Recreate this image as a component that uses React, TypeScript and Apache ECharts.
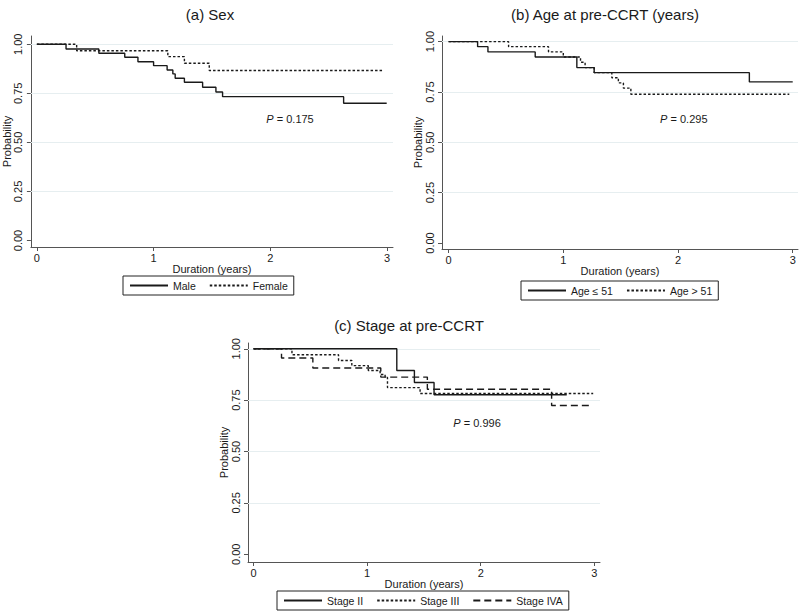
import React, { useEffect, useRef } from "react";
import * as echarts from "echarts";

const xTicks = [0, 1, 2, 3];
const yTicks = [0, 0.25, 0.5, 0.75, 1];
const gridValues = [0.25, 0.5, 0.75, 1];

const titles = ["(a) Sex", "(b) Age at pre-CCRT (years)", "(c) Stage at pre-CCRT"];
const pValues = ["0.175", "0.295", "0.996"];

// Panel (a) Sex
const maleT = [0, 0.25, 0.531, 0.753, 0.866, 1.0, 1.116, 1.165, 1.185, 1.264, 1.42, 1.534, 1.591, 2.628, 2.997];
const maleS = [1, 0.976, 0.954, 0.934, 0.911, 0.891, 0.869, 0.849, 0.827, 0.806, 0.781, 0.757, 0.733, 0.699, 0.699];
const femaleT = [0, 0.341, 1.122, 1.264, 1.477, 2.97];
const femaleS = [1, 0.967, 0.937, 0.903, 0.866, 0.866];

// Panel (b) Age
const ageLowT = [0, 0.253, 0.343, 0.755, 1.118, 1.269, 2.622, 3.0];
const ageLowS = [1, 0.975, 0.949, 0.924, 0.871, 0.846, 0.8, 0.8];
const ageHighT = [0, 0.523, 0.871, 1.0, 1.15, 1.19, 1.269, 1.423, 1.48, 1.524, 1.589, 2.97];
const ageHighS = [1, 0.975, 0.949, 0.924, 0.898, 0.871, 0.846, 0.821, 0.795, 0.769, 0.739, 0.739];

// Panel (c) Stage
const st2T = [0, 1.261, 1.416, 1.589, 2.757];
const st2S = [1, 0.894, 0.836, 0.776, 0.776];
const st3T = [0, 0.338, 0.748, 0.865, 1.01, 1.114, 1.158, 1.179, 1.466, 2.99];
const st3S = [1, 0.971, 0.943, 0.918, 0.894, 0.875, 0.86, 0.811, 0.782, 0.782];
const st4T = [0, 0.246, 0.522, 1.12, 1.53, 2.624, 2.96];
const st4S = [1, 0.955, 0.906, 0.862, 0.803, 0.724, 0.724];

// P-value label anchors (data coords)
const pAnchors = [
  [1.966, 0.618],
  [1.844, 0.615],
  [1.759, 0.64],
];

const FONT = "'Liberation Sans', Arial, Helvetica, sans-serif";
const INK = "#1a1a1a";
const AXIS = "#555555";
const GRIDC = "#e6eef0";

const pair = (t: number[], s: number[]) => t.map((x, i) => [x, s[i]]);

function km(name: string, t: number[], s: number[], idx: number, type: any, extra: any = {}) {
  return {
    type: "line",
    name,
    xAxisIndex: idx,
    yAxisIndex: idx,
    step: "end",
    symbol: "none",
    silent: true,
    z: 3,
    data: pair(t, s),
    lineStyle: { color: INK, width: 1.4, type },
    itemStyle: { color: INK },
    ...extra,
  };
}

function annot(idx: number) {
  return {
    markLine: {
      silent: true,
      symbol: "none",
      z: 1,
      label: { show: false },
      lineStyle: { color: GRIDC, width: 1, type: "solid" },
      data: gridValues.map((v) => ({ yAxis: v })),
    },
    markPoint: {
      symbol: "circle",
      symbolSize: 0,
      silent: true,
      data: [{ coord: pAnchors[idx], value: 0 }],
      label: {
        show: true,
        position: "right",
        distance: 0,
        formatter: "{i|P} = " + pValues[idx],
        fontSize: 11,
        color: INK,
        fontFamily: FONT,
        rich: { i: { fontStyle: "italic", fontSize: 11, color: INK, fontFamily: FONT } },
      },
    },
  };
}

const grids = [
  { left: 29, top: 36, width: 364, height: 211 },
  { left: 442, top: 36, width: 356, height: 213 },
  { left: 248, top: 343, width: 352, height: 219 },
];
const xRanges = [
  [-0.051, 3.051],
  [-0.0575, 3.046],
  [-0.049, 3.05],
];
const yRanges = [
  [-0.033, 1.042],
  [-0.0298, 1.028],
  [-0.0376, 1.028],
];

function xAxis(i: number) {
  return {
    type: "value",
    gridIndex: i,
    min: xRanges[i][0],
    max: xRanges[i][1],
    name: "Duration (years)",
    nameLocation: "middle",
    nameGap: 16,
    nameTextStyle: { fontSize: 11, color: INK, fontFamily: FONT },
    axisLine: { show: true, onZero: false, lineStyle: { color: AXIS, width: 1 } },
    axisTick: { show: true, customValues: xTicks, length: 4, lineStyle: { color: AXIS, width: 1 } },
    axisLabel: {
      show: true,
      customValues: xTicks,
      margin: 5,
      fontSize: 11,
      color: INK,
      fontFamily: FONT,
      formatter: (v: number) => String(Math.round(v)),
    },
    splitLine: { show: false },
  };
}

function yAxis(i: number) {
  return {
    type: "value",
    gridIndex: i,
    min: yRanges[i][0],
    max: yRanges[i][1],
    name: "Probability",
    nameLocation: "middle",
    nameGap: 17,
    nameRotate: 90,
    nameTextStyle: { fontSize: 11, color: INK, fontFamily: FONT },
    axisLine: { show: true, onZero: false, lineStyle: { color: AXIS, width: 1 } },
    axisTick: { show: true, customValues: yTicks, length: 4, lineStyle: { color: AXIS, width: 1 } },
    axisLabel: {
      show: true,
      customValues: yTicks,
      rotate: 90,
      margin: 7,
      fontSize: 11,
      color: INK,
      fontFamily: FONT,
      formatter: (v: number) => v.toFixed(2),
    },
    splitLine: { show: false },
  };
}

const DOT = [2.5, 2];
const DASH = [7, 4];

function legend(names: string[], left: number, top: number) {
  return {
    data: names,
    left,
    top,
    orient: "horizontal",
    selectedMode: false,
    borderColor: "#222",
    borderWidth: 1,
    borderRadius: 0,
    padding: [4, 6, 4, 6],
    itemWidth: 38,
    itemHeight: 10,
    itemGap: 13,
    itemStyle: { color: "rgba(0,0,0,0)", borderWidth: 0, opacity: 0 },
    textStyle: { fontSize: 10.5, color: INK, fontFamily: FONT },
  };
}

export default function App() {
  const ref = useRef<HTMLDivElement>(null);
  useEffect(() => {
    if (!ref.current) return;
    const chart = echarts.init(ref.current, undefined, { renderer: "svg" });
    chart.setOption({
      animation: false,
      backgroundColor: "#ffffff",
      textStyle: { fontFamily: FONT },
      title: [
        { text: titles[0], left: 205, top: 2, textAlign: "center", textStyle: { fontSize: 15, fontWeight: "normal", color: INK, fontFamily: FONT } },
        { text: titles[1], left: 600, top: 2, textAlign: "center", textStyle: { fontSize: 15, fontWeight: "normal", color: INK, fontFamily: FONT } },
        { text: titles[2], left: 404, top: 313, textAlign: "center", textStyle: { fontSize: 15, fontWeight: "normal", color: INK, fontFamily: FONT } },
      ],
      grid: grids,
      xAxis: [xAxis(0), xAxis(1), xAxis(2)],
      yAxis: [yAxis(0), yAxis(1), yAxis(2)],
      legend: [
        legend(["Male", "Female"], 123, 276),
        legend(["Age \u2264 51", "Age > 51"], 521, 281),
        legend(["Stage II", "Stage III", "Stage IVA"], 277, 591),
      ],
      series: [
        km("Male", maleT, maleS, 0, "solid", annot(0)),
        km("Female", femaleT, femaleS, 0, DOT),
        km("Age \u2264 51", ageLowT, ageLowS, 1, "solid", annot(1)),
        km("Age > 51", ageHighT, ageHighS, 1, DOT),
        km("Stage II", st2T, st2S, 2, "solid", annot(2)),
        km("Stage III", st3T, st3S, 2, DOT),
        km("Stage IVA", st4T, st4S, 2, DASH),
      ],
    });
    return () => chart.dispose();
  }, []);
  return (
    <div
      ref={ref}
      style={{ position: "fixed", left: 0, top: 0, width: 800, height: 614, background: "#fff" }}
    />
  );
}
